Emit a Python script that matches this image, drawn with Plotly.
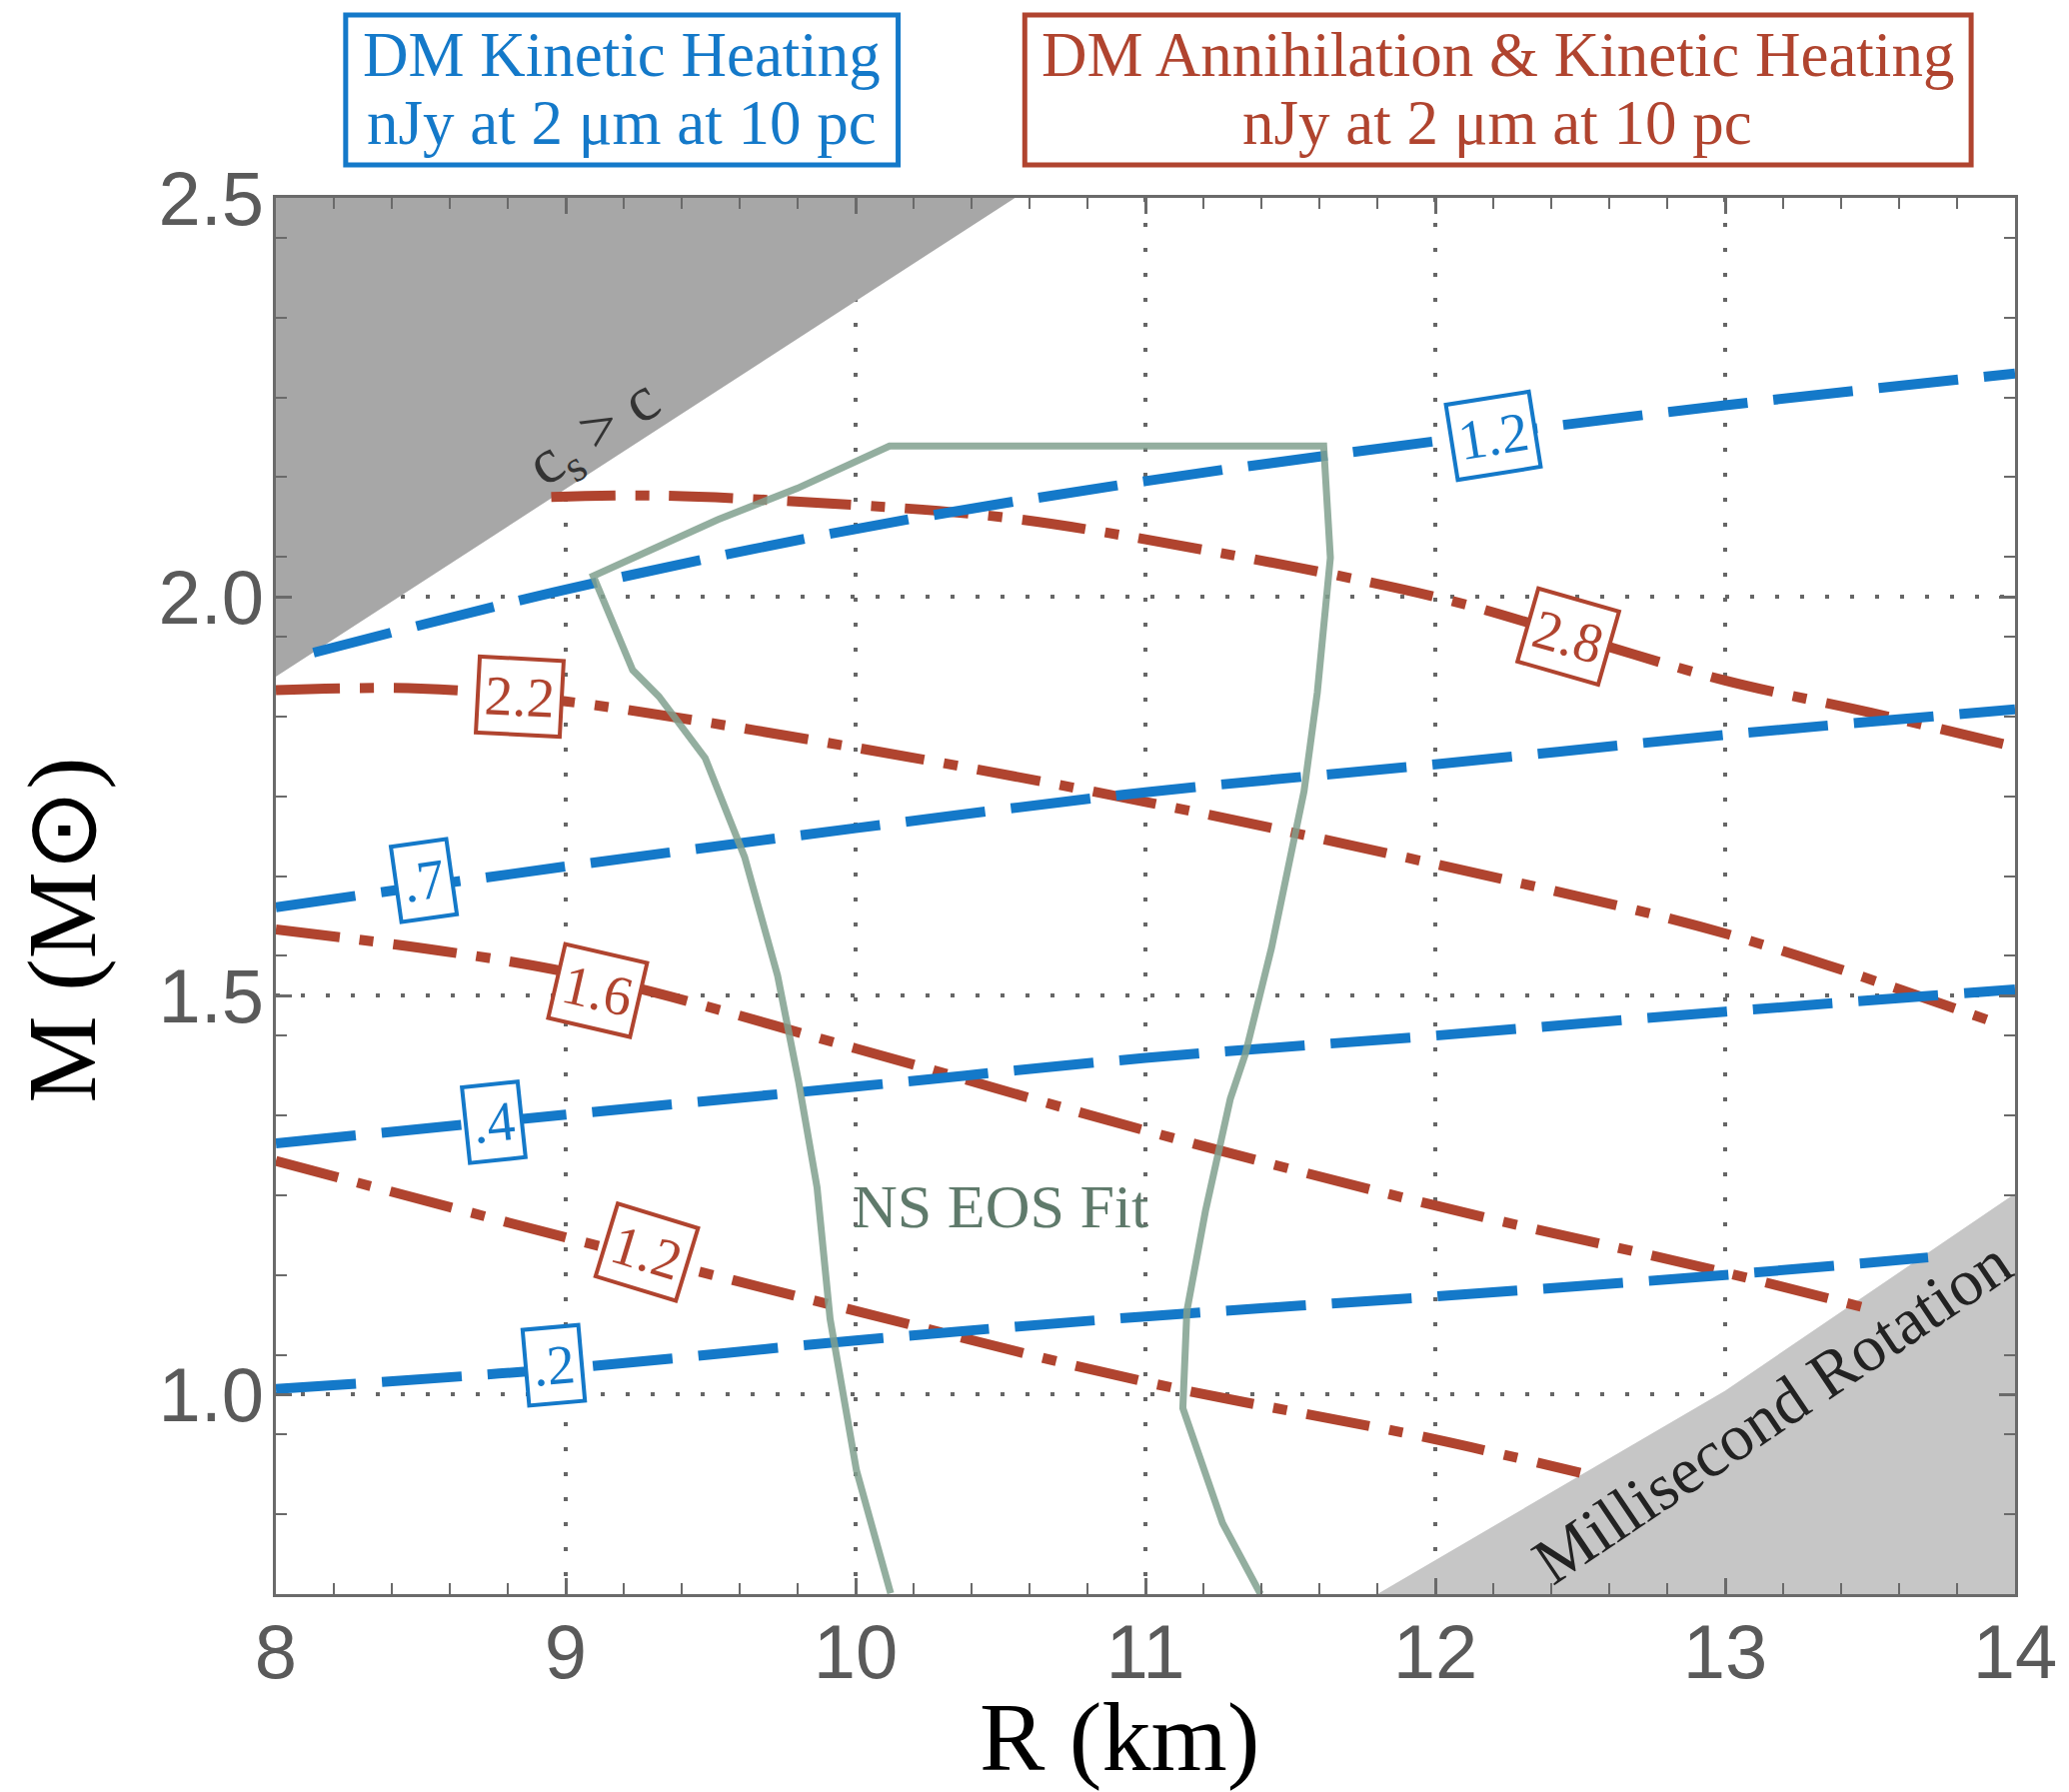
import plotly.graph_objects as go

# ---------------- data ----------------
# Kinetic heating contours (blue, dashed): radius R (km) and mass M (Msun)
kh_12_R = [8.13, 9, 10, 11, 12, 13, 14]
kh_12_M = [1.930, 2.009, 2.085, 2.145, 2.195, 2.240, 2.280]
kh_07_R = [8, 9, 10, 11, 12, 13, 14]
kh_07_M = [1.611, 1.662, 1.710, 1.755, 1.790, 1.827, 1.859]
kh_04_R = [8, 9, 10, 11, 12, 13, 14]
kh_04_M = [1.315, 1.351, 1.386, 1.422, 1.450, 1.480, 1.508]
kh_02_R = [8, 9, 10, 11, 12, 13, 13.70]
kh_02_M = [1.007, 1.033, 1.068, 1.098, 1.123, 1.150, 1.172]

# Annihilation + kinetic heating contours (red, dash-dot)
ah_28_R = [8.95, 9.3, 10, 10.5, 11, 12, 12.5, 13, 13.5, 14]
ah_28_M = [2.125, 2.127, 2.115, 2.100, 2.072, 2.000, 1.948, 1.895, 1.855, 1.812]
ah_22_R = [8, 8.5, 9, 10, 11, 12, 13, 13.95]
ah_22_M = [1.883, 1.885, 1.869, 1.811, 1.743, 1.665, 1.578, 1.464]
ah_16_R = [8, 9, 10, 11, 12, 13, 13.47]
ah_16_M = [1.583, 1.530, 1.434, 1.331, 1.237, 1.153, 1.110]
ah_12_R = [8, 9, 10, 11, 12, 12.5]
ah_12_M = [1.293, 1.197, 1.105, 1.016, 0.944, 0.902]

# NS EOS fit outline (open at the bottom)
eos_R = [10.121, 10.003, 9.912, 9.867, 9.803, 9.731, 9.617, 9.481, 9.322, 9.231, 9.095,
         9.526, 9.799, 10.003, 10.117, 11.615, 11.638, 11.593, 11.547, 11.435, 11.344,
         11.293, 11.207, 11.143, 11.129, 11.266, 11.397]
eos_M = [0.751, 0.905, 1.095, 1.260, 1.393, 1.525, 1.674, 1.798, 1.875, 1.908, 2.026,
         2.097, 2.136, 2.169, 2.189, 2.189, 2.049, 1.880, 1.756, 1.560, 1.426,
         1.371, 1.230, 1.105, 0.983, 0.839, 0.750]

# Excluded regions
cs_R = [8, 10.55, 8, 8]
cs_M = [2.5, 2.5, 1.90, 2.5]
ms_R = [11.80, 13.0, 14, 14, 11.80]
ms_M = [0.75, 1.005, 1.252, 0.75, 0.75]

# Contour labels: text, R, M, angle
kh_labels = [("1.2", 12.20, 2.202, -9), (".7", 8.51, 1.645, -8),
             (".4", 8.75, 1.341, -6), (".2", 8.96, 1.037, -5)]
ah_labels = [("2.8", 12.46, 1.950, 16), ("2.2", 8.84, 1.875, 3),
             ("1.6", 9.11, 1.507, 13), ("1.2", 9.28, 1.178, 17)]

x_ticks = [8, 9, 10, 11, 12, 13, 14]
y_ticks = [1.0, 1.5, 2.0, 2.5]

BLUE = "#1479c9"
RED = "#b0442f"
GREEN = "rgba(128,160,142,0.85)"
SERIF = "Liberation Serif, Times New Roman, serif"

fig = go.Figure()

fig.add_trace(go.Scatter(x=cs_R, y=cs_M, fill="toself", fillcolor="#a7a7a7",
                         mode="none", hoverinfo="skip"))
fig.add_trace(go.Scatter(x=ms_R, y=ms_M, fill="toself", fillcolor="#c6c6c6",
                         mode="none", hoverinfo="skip"))

for R, M in [(ah_28_R, ah_28_M), (ah_22_R, ah_22_M), (ah_16_R, ah_16_M), (ah_12_R, ah_12_M)]:
    fig.add_trace(go.Scatter(x=R, y=M, mode="lines", line_shape="spline",
                             line=dict(color=RED, width=10, dash="64px,20px,14px,20px")))
for R, M in [(kh_12_R, kh_12_M), (kh_07_R, kh_07_M), (kh_04_R, kh_04_M), (kh_02_R, kh_02_M)]:
    fig.add_trace(go.Scatter(x=R, y=M, mode="lines", line_shape="spline",
                             line=dict(color=BLUE, width=10, dash="80px,26px")))

fig.add_trace(go.Scatter(x=eos_R, y=eos_M, mode="lines",
                         line=dict(color=GREEN, width=7)))

annotations = []
for txt, R, M, ang in kh_labels:
    annotations.append(dict(x=R, y=M, text=txt, showarrow=False, textangle=ang,
                            font=dict(family=SERIF, size=56, color=BLUE),
                            bgcolor="white", bordercolor=BLUE, borderwidth=4, borderpad=5))
for txt, R, M, ang in ah_labels:
    annotations.append(dict(x=R, y=M, text=txt, showarrow=False, textangle=ang,
                            font=dict(family=SERIF, size=56, color=RED),
                            bgcolor="white", bordercolor=RED, borderwidth=4, borderpad=5))

annotations += [
    dict(x=9.10, y=2.203, text="c<sub>s</sub> > c", showarrow=False, textangle=-33,
         font=dict(family=SERIF, size=64, color="#333333")),
    dict(x=13.16, y=0.979, text="Millisecond Rotation", showarrow=False, textangle=-34,
         font=dict(family=SERIF, size=66, color="#222222")),
    dict(x=10.50, y=1.236, text="NS EOS Fit", showarrow=False,
         font=dict(family=SERIF, size=62, color="#5f7a6b")),
]

# page has an 8px body margin; plot area on the page: x 276..2020, y 198..1595
def px(xp):
    return (xp - 276) / 1744.0

def py(yp):
    return (1595 - yp) / 1397.0

# header boxes
shapes = [
    dict(type="rect", xref="paper", yref="paper", x0=px(346), x1=px(900), y0=py(165), y1=py(15),
         line=dict(color=BLUE, width=5), fillcolor="white", layer="above"),
    dict(type="rect", xref="paper", yref="paper", x0=px(1027), x1=px(1976), y0=py(165), y1=py(15),
         line=dict(color=RED, width=5), fillcolor="white", layer="above"),
]
hdr = [
    ("DM Kinetic Heating", 623, 55, BLUE),
    ("nJy at 2 μm at 10 pc", 623, 123, BLUE),
    ("DM Annihilation &amp; Kinetic Heating", 1501, 55, RED),
    ("nJy at 2 μm at 10 pc", 1501, 123, RED),
]
for t, xc, yc, c in hdr:
    annotations.append(dict(xref="paper", yref="paper", x=px(xc), y=py(yc), text=t,
                            showarrow=False, xanchor="center", yanchor="middle",
                            font=dict(family=SERIF, size=63, color=c)))

# axis titles
annotations.append(dict(xref="paper", yref="paper", x=px(1122), y=py(1738), text="R (km)",
                        showarrow=False, xanchor="center", yanchor="middle",
                        font=dict(family=SERIF, size=98, color="black")))
annotations.append(dict(xref="paper", yref="paper", x=px(62), y=py(930), text="M (M⊙)",
                        showarrow=False, xanchor="center", yanchor="middle", textangle=-90,
                        font=dict(family=SERIF, size=98, color="black")))

axis_common = dict(showline=True, linecolor="#6a6a6a", linewidth=2.5, mirror="allticks",
                   ticks="inside", ticklen=16, tickwidth=2.5, tickcolor="#6a6a6a",
                   showgrid=True, gridcolor="#666666", gridwidth=4, griddash="4px,21px",
                   zeroline=False,
                   tickfont=dict(family="Liberation Sans, Arial, sans-serif", size=76,
                                 color="#5a5a5a"))

fig.update_layout(
    width=2062, height=1785,
    margin=dict(l=268, r=50, t=190, b=198),
    paper_bgcolor="white", plot_bgcolor="white",
    showlegend=False,
    annotations=annotations,
    shapes=shapes,
    xaxis=dict(range=[8, 14], tickvals=x_ticks, ticklabelstandoff=-10,
               minor=dict(ticks="inside", dtick=0.2, tick0=8, ticklen=11, tickwidth=2,
                          tickcolor="#6a6a6a", showgrid=False),
               **axis_common),
    yaxis=dict(range=[0.75, 2.5], tickvals=y_ticks, tickformat=".1f", ticklabelstandoff=-6,
               minor=dict(ticks="inside", dtick=0.1, tick0=0.75, ticklen=11, tickwidth=2,
                          tickcolor="#6a6a6a", showgrid=False),
               **axis_common),
)

fig.write_html("out.html")
